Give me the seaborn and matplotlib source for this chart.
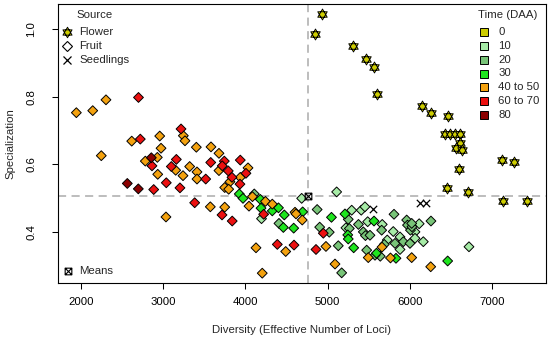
import numpy as np
import pandas as pd
import matplotlib
matplotlib.use("Agg")
import matplotlib.pyplot as plt
from matplotlib.path import Path
from matplotlib.lines import Line2D
from matplotlib.transforms import Affine2D
import seaborn as sns

sns.set_style("white")
plt.rcParams["font.family"] = ["Liberation Sans", "DejaVu Sans"]

# ---- time classes (days after anthesis) ----
time_levels = ["0", "10", "20", "30", "40 to 50", "60 to 70", "80"]
time_colors = ["#cdcd00", "#a6eba6", "#78c478", "#1ee61e", "#f4a20f", "#ec1010", "#8b0000"]

# ---- fruit samples ----
fruit10_x = [4197, 4685, 5110, 5293, 5409, 5454, 5223, 5487, 5664, 5798, 5880, 5725,
             5880, 6062, 6113, 6163, 6718, 6062]
fruit10_y = [0.440, 0.500, 0.519, 0.465, 0.465, 0.475, 0.413, 0.431, 0.423, 0.402, 0.386, 0.377,
             0.349, 0.401, 0.425, 0.372, 0.357, 0.382]

fruit20_x = [4109, 4409, 4873, 4904, 5020, 5130, 5171, 5251, 5264, 5375, 5434, 5460, 5515, 5475,
             5657, 5640, 5689, 5576, 5819, 5920, 5961, 5971, 6007, 6025, 6001, 6256, 6022, 5807]
fruit20_y = [0.513, 0.426, 0.467, 0.415, 0.400, 0.360, 0.280, 0.438, 0.411, 0.423, 0.401, 0.390,
             0.391, 0.347, 0.406, 0.329, 0.364, 0.332, 0.367, 0.372, 0.436, 0.421, 0.406, 0.416,
             0.367, 0.433, 0.426, 0.453]

fruit30_x = [3927, 3972, 4182, 4191, 4328, 4403, 4474, 4462, 4588, 4697, 5047, 5211, 5245, 5251,
             5317, 5564, 5831, 6459, 5594]
fruit30_y = [0.513, 0.500, 0.497, 0.471, 0.463, 0.472, 0.451, 0.414, 0.412, 0.460, 0.444, 0.454,
             0.392, 0.380, 0.354, 0.433, 0.323, 0.315, 0.338]

fruit45_x = [1947, 2146, 2307, 3247, 3267, 2960, 2620, 2976, 3405, 2250, 2931, 2785, 3154, 3324,
             2936, 3243, 3413, 3413, 3583, 3680, 3680, 4033, 3939, 3814, 3750, 3798, 3036, 3575,
             3750, 4087, 4045, 4245, 4328, 4604, 4616, 4692, 4130, 4491, 4206, 4980, 5090, 5661,
             5494, 5764, 6022, 6253]
fruit45_y = [0.753, 0.759, 0.791, 0.685, 0.670, 0.684, 0.669, 0.648, 0.651, 0.626, 0.621, 0.610,
             0.583, 0.594, 0.571, 0.567, 0.578, 0.557, 0.652, 0.633, 0.582, 0.590, 0.562, 0.549,
             0.532, 0.527, 0.445, 0.475, 0.474, 0.505, 0.477, 0.491, 0.483, 0.459, 0.454, 0.436,
             0.354, 0.343, 0.279, 0.358, 0.306, 0.356, 0.325, 0.324, 0.325, 0.298]

fruit65_x = [2702, 3219, 2724, 2866, 3162, 3101, 3519, 3040, 2887, 3206, 3385, 3580, 3745, 3720,
             3939, 3793, 4008, 3838, 3935, 3717, 3841, 4223, 4389, 4592, 4859, 4948]
fruit65_y = [0.798, 0.705, 0.675, 0.596, 0.615, 0.594, 0.557, 0.546, 0.526, 0.531, 0.487, 0.606,
             0.610, 0.596, 0.613, 0.581, 0.574, 0.562, 0.542, 0.451, 0.433, 0.453, 0.364, 0.362,
             0.349, 0.397]

fruit80_x = [2858, 2566, 2700]
fruit80_y = [0.620, 0.544, 0.528]

# ---- flower samples (time 0) ----
flower_x = [4932, 4847, 5305, 5467, 5560, 5604, 6143, 6256, 6467, 6427, 6487, 6548, 6609, 6609,
            6560, 6629, 6600, 6447, 6710, 7119, 7265, 7131, 7419]
flower_y = [1.044, 0.984, 0.950, 0.913, 0.889, 0.807, 0.773, 0.753, 0.744, 0.689, 0.689, 0.689,
            0.689, 0.664, 0.649, 0.643, 0.586, 0.531, 0.520, 0.613, 0.606, 0.492, 0.492]

# ---- seedling samples ----
seedling_x = [5548, 6123, 6196]
seedling_y = [0.468, 0.487, 0.487]

# ---- overall means ----
mean_x = 4760
mean_y = 0.506

x_ticks = [2000, 3000, 4000, 5000, 6000, 7000]
y_ticks = [0.4, 0.6, 0.8, 1.0]

fruit = pd.concat([
    pd.DataFrame({"div": fruit10_x, "spec": fruit10_y, "time": "10"}),
    pd.DataFrame({"div": fruit20_x, "spec": fruit20_y, "time": "20"}),
    pd.DataFrame({"div": fruit30_x, "spec": fruit30_y, "time": "30"}),
    pd.DataFrame({"div": fruit45_x, "spec": fruit45_y, "time": "40 to 50"}),
    pd.DataFrame({"div": fruit65_x, "spec": fruit65_y, "time": "60 to 70"}),
    pd.DataFrame({"div": fruit80_x, "spec": fruit80_y, "time": "80"}),
], ignore_index=True)
palette = dict(zip(time_levels, time_colors))

# hexagram (two overlapping triangles) for flowers
star = Path(
    [(0, 1), (-0.866, -0.5), (0.866, -0.5), (0, 1),
     (0, -1), (0.866, 0.5), (-0.866, 0.5), (0, -1)],
    [Path.MOVETO, Path.LINETO, Path.LINETO, Path.CLOSEPOLY,
     Path.MOVETO, Path.LINETO, Path.LINETO, Path.CLOSEPOLY])

# square with a cross for the means
boxx = Path(
    [(-1, -1), (1, -1), (1, 1), (-1, 1), (-1, -1), (-1, -1), (1, 1), (-1, 1), (1, -1)],
    [Path.MOVETO, Path.LINETO, Path.LINETO, Path.LINETO, Path.CLOSEPOLY,
     Path.MOVETO, Path.LINETO, Path.MOVETO, Path.LINETO])

W, H = 548, 342
fig = plt.figure(figsize=(W / 100, H / 100), dpi=100)
ax = fig.add_axes([58 / W, 1 - 283 / H, (546 - 58) / W, (283 - 4) / H])

dash_col = "#b8b8b8"
ax.axvline(mean_x, color=dash_col, lw=1.3, dashes=(4.5, 3), zorder=1)
ax.axhline(mean_y, color=dash_col, lw=1.3, dashes=(4.5, 3), zorder=1)

sns.scatterplot(data=fruit, x="div", y="spec", hue="time", palette=palette,
                hue_order=time_levels[1:], marker="D", s=25, edgecolor="black",
                linewidth=0.7, legend=False, ax=ax, zorder=3)
sns.scatterplot(x=flower_x, y=flower_y, marker=star, s=62, color=time_colors[0],
                edgecolor="black", linewidth=0.65, legend=False, ax=ax, zorder=3)
sns.scatterplot(x=seedling_x, y=seedling_y, marker="x", s=28, color="black",
                linewidth=0.9, legend=False, ax=ax, zorder=3)
ax.plot([mean_x], [mean_y], ls="", marker=boxx, ms=4.8, mfc="none", mec="black",
        mew=0.8, zorder=4)

ax.set_xlim(1724, 7654)
ax.set_ylim(0.250, 1.074)
ax.set_xticks(x_ticks)
ax.set_xticklabels([str(t) for t in x_ticks])
ax.set_yticks(y_ticks)
ax.set_yticklabels([f"{t:.1f}" for t in y_ticks])
for lab in ax.get_yticklabels():
    lab.set_rotation(90)
    lab.set_va("center")
    lab.set_ha("right")

ax.tick_params(axis="both", direction="out", length=4.3, width=0.75, color="black",
               labelsize=8.2, labelcolor="black")
ax.tick_params(axis="x", pad=6, bottom=True, top=False)
ax.tick_params(axis="y", pad=11.5, left=True, right=False)
for sp in ax.spines.values():
    sp.set_visible(True)
    sp.set_color("black")
    sp.set_linewidth(0.8)

ax.set_xlabel("Diversity (Effective Number of Loci)", fontsize=8.2)
ax.set_ylabel("Specialization", fontsize=8.2)
ax.xaxis.set_label_coords(0.5, (283 - 330) / 279)
ax.xaxis.label.set_va("center")
ax.yaxis.set_label_coords((10 - 58) / 488, 0.5)
ax.yaxis.label.set_va("center")
ax.yaxis.label.set_ha("center")

# ---- legends, positioned in pixel units from the top-left corner ----
px = Affine2D().scale(1 / W, -1 / H).translate(0, 1) + fig.transFigure
fs = 8.2


def legend_marker(x, y, **kw):
    fig.add_artist(Line2D([x], [y], ls="", transform=px, **kw))


def legend_text(x, y, s, ha="left"):
    fig.text(x, y, s, transform=px, ha=ha, va="center", fontsize=fs)


legend_text(95, 14.5, "Source", ha="center")
legend_marker(66.7, 32.3, marker=star, ms=7.6, mfc=time_colors[0], mec="black", mew=0.65)
legend_text(79.3, 32.3, "Flower")
legend_marker(66.7, 45.9, marker="D", ms=4.6, mfc="white", mec="black", mew=0.8)
legend_text(79.3, 45.9, "Fruit")
legend_marker(66.7, 59.6, marker="x", ms=5.2, mec="black", mew=0.9)
legend_text(79.3, 59.6, "Seedlings")

legend_text(507.5, 15, "Time (DAA)", ha="center")
row_y = [32.3, 46.0, 59.8, 73.5, 87.3, 101.0, 114.8]
for yy, lab, col in zip(row_y, time_levels, time_colors):
    legend_marker(484.3, yy, marker="s", ms=5.2, mfc=col, mec="black", mew=0.7)
    legend_text(498.3, yy, lab)

legend_marker(67.5, 271, marker=boxx, ms=4.8, mfc="none", mec="black", mew=0.8)
legend_text(79.3, 271, "Means")

fig.savefig("out.png", dpi=100)
